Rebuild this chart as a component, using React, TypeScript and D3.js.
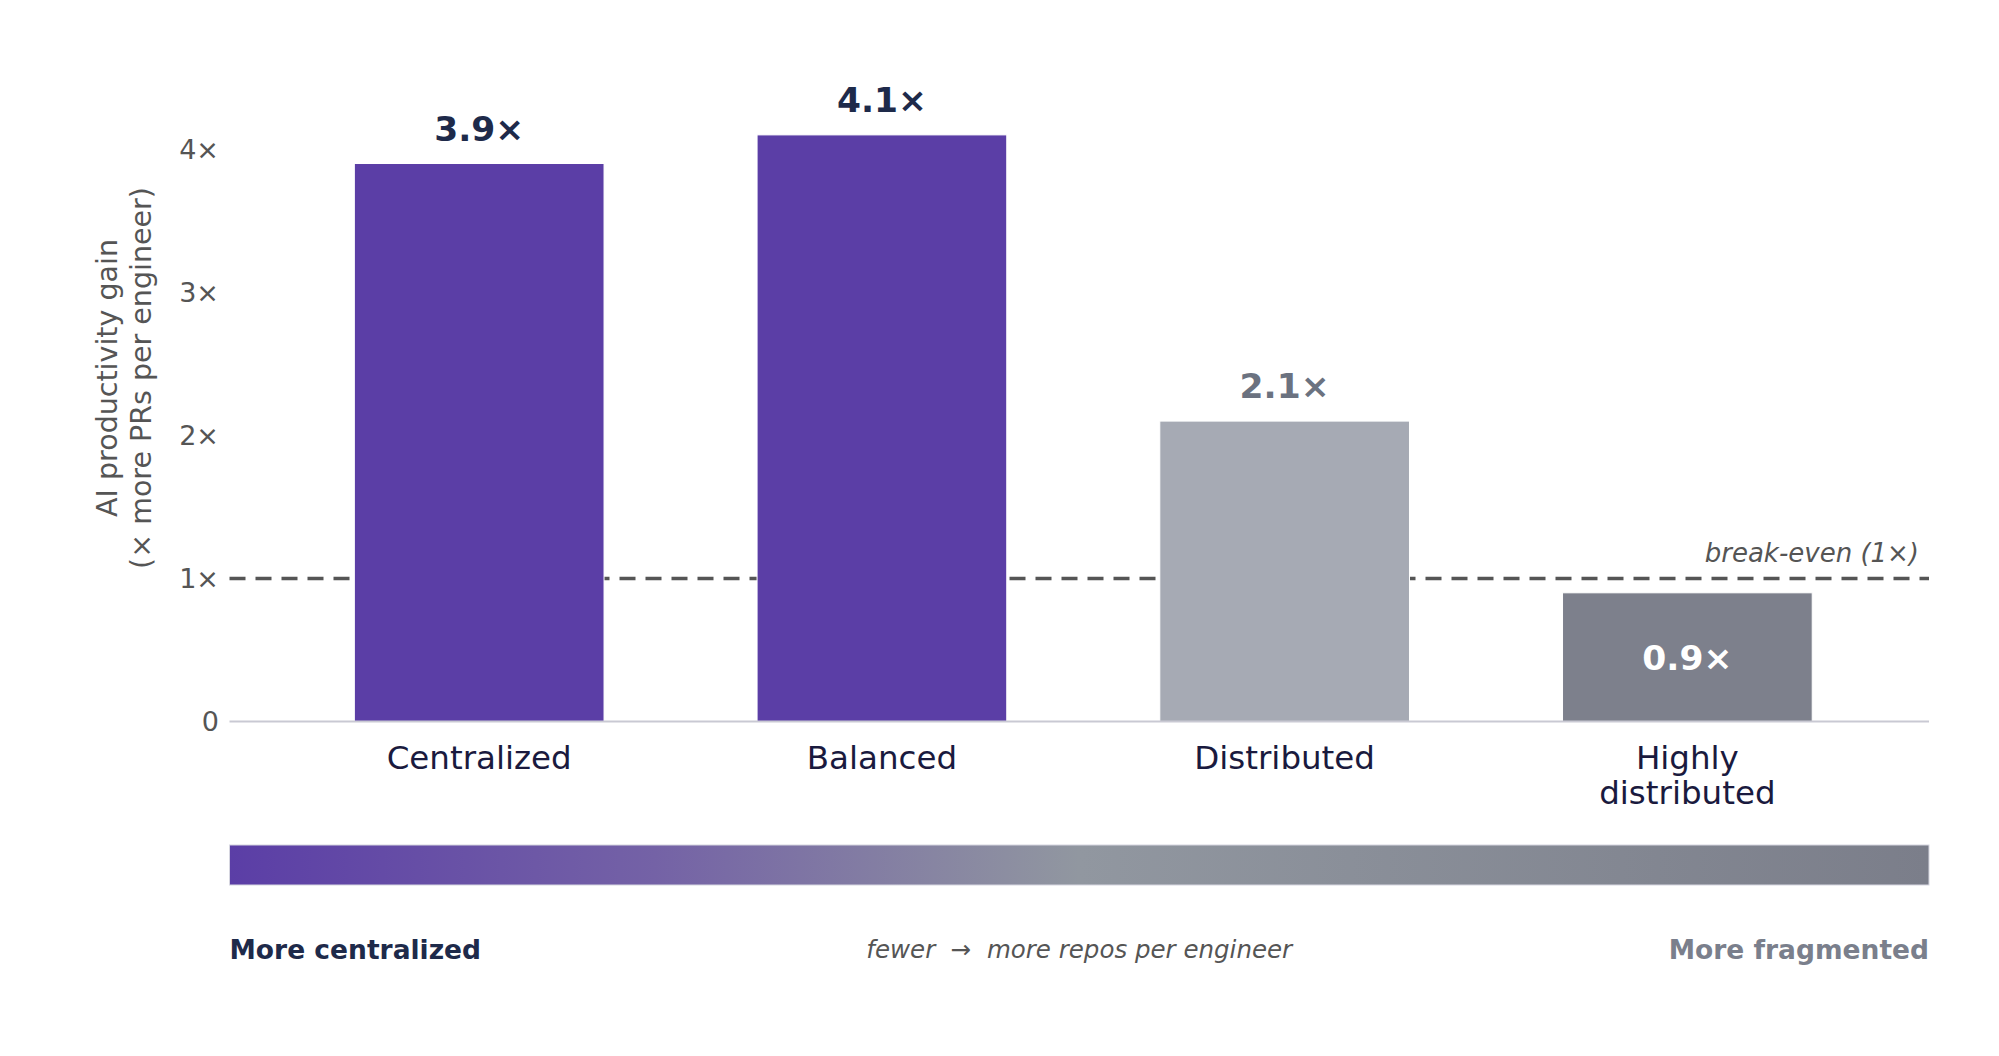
import React from 'react';
import * as d3 from 'd3';

const categories = ['Centralized', 'Balanced', 'Distributed', 'Highly\ndistributed'];
const gains = [3.9, 4.1, 2.1, 0.9];
const valueLabels = ['3.9×', '4.1×', '2.1×', '0.9×'];
const barColors = ['#5b3ea6', '#5b3ea6', '#a6aab4', '#7d808c'];
const labelColors = ['#1e2a4a', '#1e2a4a', '#6b7280', '#ffffff'];
const yTicks = [0, 1, 2, 3, 4];
const yTickLabels = ['0', '1×', '2×', '3×', '4×'];
const breakEven = 1;
const gradientStops = [
  { offset: 0, color: '#5b3ea6' },
  { offset: 0.25, color: '#7462a6' },
  { offset: 0.5, color: '#9197a0' },
  { offset: 1, color: '#7b7e8a' },
];

const W = 1999;
const H = 1056;
const FONT = '"DejaVu Sans", sans-serif';

export default function App() {
  const left = 229.5;
  const right = 1929;
  const baseY = 721.6;

  // matplotlib-like x limits around integer bar positions
  const x = d3.scaleLinear().domain([-0.62, 3.6]).range([left, right]);
  const y = d3.scaleLinear().domain([0, 4]).range([baseY, baseY - 4 * 143.1]);
  const barW = x(0.62) - x(0);

  const midX = (left + right) / 2;
  const gradTop = 845;
  const gradH = 40;

  return (
    <svg
      width={W}
      height={H}
      style={{ position: 'absolute', left: 0, top: 0, background: '#fff' }}
      fontFamily={FONT}
    >
      <defs>
        <linearGradient id="spectrum" x1="0%" x2="100%" y1="0%" y2="0%">
          {gradientStops.map((s) => (
            <stop key={s.offset} offset={`${s.offset * 100}%`} stopColor={s.color} />
          ))}
        </linearGradient>
      </defs>

      {/* y ticks */}
      {yTicks.map((t, i) => (
        <text
          key={t}
          x={219}
          y={y(t)}
          dy="0.36em"
          textAnchor="end"
          fontSize={27}
          fill="#555555"
        >
          {yTickLabels[i]}
        </text>
      ))}

      {/* y axis label */}
      <text
        transform={`translate(107, 378) rotate(-90)`}
        textAnchor="middle"
        fontSize={28.5}
        fill="#555555"
        dy="0.35em"
      >
        AI productivity gain
      </text>
      <text
        transform={`translate(141, 378) rotate(-90)`}
        textAnchor="middle"
        fontSize={28.5}
        fill="#555555"
        dy="0.35em"
      >
        (× more PRs per engineer)
      </text>

      {/* break-even line, drawn under bars */}
      <line
        x1={left}
        x2={right}
        y1={y(breakEven)}
        y2={y(breakEven)}
        stroke="#555555"
        strokeWidth={3.5}
        strokeDasharray="16 10"
      />
      <text
        x={1919}
        y={562}
        textAnchor="end"
        fontSize={26}
        fontStyle="italic"
        fill="#555555"
      >
        break-even (1×)
      </text>

      {/* bars */}
      {gains.map((g, i) => (
        <rect
          key={categories[i]}
          x={x(i) - barW / 2}
          y={y(g)}
          width={barW}
          height={baseY - y(g)}
          fill={barColors[i]}
          stroke="#ffffff"
          strokeWidth={1}
        />
      ))}

      {/* baseline */}
      <line x1={left} x2={right} y1={baseY} y2={baseY} stroke="#c9c9d3" strokeWidth={2} />

      {/* value labels */}
      {gains.map((g, i) => {
        const inside = g < breakEven;
        return (
          <text
            key={`v${i}`}
            x={x(i)}
            y={inside ? (y(g) + baseY) / 2 : y(g) - 23}
            dy={inside ? '0.36em' : 0}
            textAnchor="middle"
            fontSize={34.5}
            fontWeight="bold"
            fill={labelColors[i]}
          >
            {valueLabels[i]}
          </text>
        );
      })}

      {/* category labels */}
      {categories.map((c, i) => (
        <text key={c} x={x(i)} y={769} textAnchor="middle" fontSize={32.5} fill="#1a1a3e">
          {c.split('\n').map((line, j) => (
            <tspan key={j} x={x(i)} dy={j === 0 ? 0 : 35}>
              {line}
            </tspan>
          ))}
        </text>
      ))}

      {/* gradient spectrum bar */}
      <rect
        x={left}
        y={gradTop}
        width={right - left}
        height={gradH}
        fill="url(#spectrum)"
        stroke="#d6d6e0"
        strokeWidth={1}
      />

      <text x={left} y={959} fontSize={26.5} fontWeight="bold" fill="#1e2a4a">
        More centralized
      </text>
      <text
        x={midX}
        y={958}
        textAnchor="middle"
        fontSize={24.5}
        fontStyle="italic"
        fill="#555555"
        style={{ whiteSpace: 'pre' }}
      >
        {'fewer  \u2192  more repos per engineer'}
      </text>
      <text x={right} y={959} textAnchor="end" fontSize={26.5} fontWeight="bold" fill="#7a7f8c">
        More fragmented
      </text>
    </svg>
  );
}
